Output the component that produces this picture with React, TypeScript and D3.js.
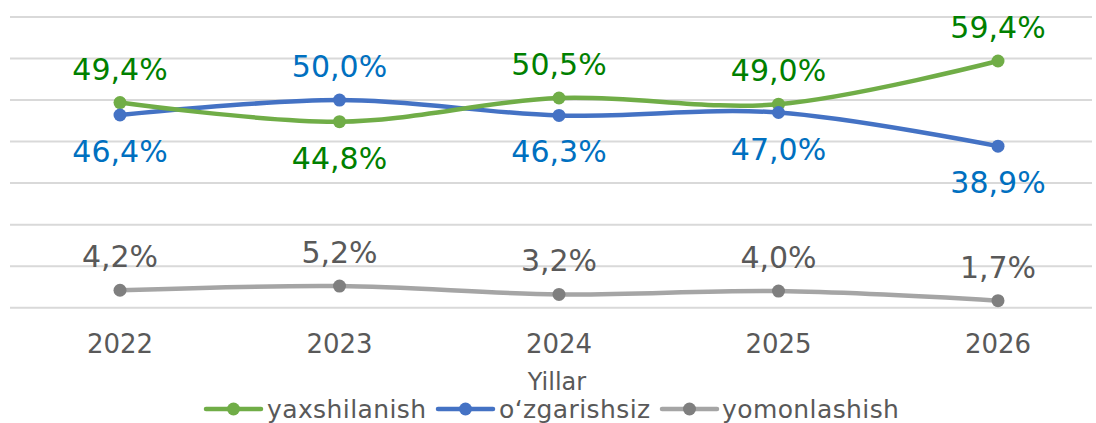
import React from "react";
import * as d3 from "d3";

const years = ["2022", "2023", "2024", "2025", "2026"];
const yaxshilanish = [49.4, 44.8, 50.5, 49.0, 59.4];
const ozgarishsiz = [46.4, 50.0, 46.3, 47.0, 38.9];
const yomonlashish = [4.2, 5.2, 3.2, 4.0, 1.7];
const yTicks = [0, 10, 20, 30, 40, 50, 60, 70];
const greenPos = ["above", "below", "above", "above", "above"];
const bluePos = ["below", "above", "below", "below", "below"];
const grayPos = ["above", "above", "above", "above", "above"];

const W = 1096;
const H = 423;
const FONT = "'DejaVu Sans', Verdana, sans-serif";

export default function App() {
  const x = d3.scalePoint<string>().domain(years).range([120, 998]);
  const y = d3.scaleLinear().domain([0, 70]).range([307.7, 17]);
  const line = d3
    .line<number>()
    .x((_, i) => x(years[i]) as number)
    .y((d) => y(d))
    .curve(d3.curveCatmullRom.alpha(0));

  const series = [
    { name: "yaxshilanish", data: yaxshilanish, line: "#70AD47", marker: "#70AD47", label: "#008000", pos: greenPos },
    { name: "o\u2018zgarishsiz", data: ozgarishsiz, line: "#4472C4", marker: "#4472C4", label: "#0070C0", pos: bluePos },
    { name: "yomonlashish", data: yomonlashish, line: "#A5A5A5", marker: "#7F7F7F", label: "#595959", pos: grayPos },
  ];

  const fmt = (v: number) => v.toFixed(1).replace(".", ",") + "%";

  const legendItems = [
    { x: 206, textX: 267 },
    { x: 438, textX: 499 },
    { x: 662, textX: 722 },
  ];

  return (
    <svg
      width={W}
      height={H}
      style={{ position: "absolute", left: 0, top: 0, background: "#fff" }}
      fontFamily={FONT}
    >
      {yTicks.map((t) => (
        <line key={t} x1={10} x2={1092} y1={y(t)} y2={y(t)} stroke="#D9D9D9" strokeWidth={2} />
      ))}
      {[...series].reverse().map((s) => (
        <path key={s.name} d={line(s.data) || ""} fill="none" stroke={s.line} strokeWidth={4.5} strokeLinecap="round" />
      ))}
      {series.map((s) =>
        s.data.map((v, i) => (
          <circle key={s.name + i} cx={x(years[i])} cy={y(v)} r={6.5} fill={s.marker} />
        ))
      )}
      {series.map((s) =>
        s.data.map((v, i) => (
          <text
            key={"l" + s.name + i}
            x={x(years[i])}
            y={s.pos[i] === "above" ? y(v) - 23 : y(v) + 47}
            textAnchor="middle"
            fontSize={30}
            fill={s.label}
          >
            {fmt(v)}
          </text>
        ))
      )}
      {years.map((yr) => (
        <text key={yr} x={x(yr)} y={353} textAnchor="middle" fontSize={26} fill="#595959">
          {yr}
        </text>
      ))}
      <text x={557} y={390} textAnchor="middle" fontSize={24} fill="#595959">
        Yillar
      </text>
      {series.map((s, i) => (
        <g key={"leg" + i}>
          <line x1={legendItems[i].x} x2={legendItems[i].x + 55} y1={409} y2={409} stroke={s.line} strokeWidth={4.5} strokeLinecap="round" />
          <circle cx={legendItems[i].x + 27.5} cy={409} r={6.5} fill={s.marker} />
          <text x={legendItems[i].textX} y={418} fontSize={25} letterSpacing={0.4} fill="#595959">
            {s.name}
          </text>
        </g>
      ))}
    </svg>
  );
}
